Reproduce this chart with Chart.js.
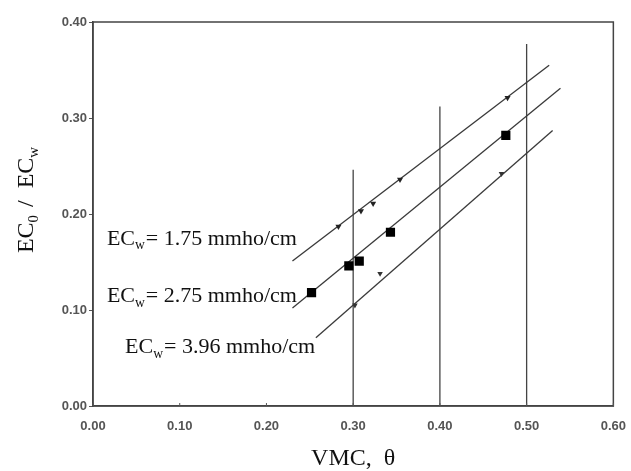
<!DOCTYPE html>
<html>
<head>
<meta charset="utf-8">
<script src="https://cdn.jsdelivr.net/npm/chart.js@4"></script>
<style>
  html, body { margin: 0; padding: 0; background: #fff; }
  #wrap { width: 631px; height: 471px; position: relative; }
</style>
</head>
<body>
<div id="wrap"><canvas id="chart"></canvas></div>
<script>
// measured points, VMC (theta) vs EC0/ECw
const ec175Theta = [0.283, 0.309, 0.323, 0.354, 0.478];
const ec175Ratio = [0.187, 0.203, 0.211, 0.236, 0.321];
const ec275Theta = [0.252, 0.295, 0.307, 0.343, 0.476];
const ec275Ratio = [0.118, 0.146, 0.151, 0.181, 0.282];
const ec396Theta = [0.302, 0.331, 0.471];
const ec396Ratio = [0.105, 0.138, 0.242];

// fitted lines (end points)
const fit175Theta = [0.230, 0.526];
const fit175Ratio = [0.151, 0.355];
const fit275Theta = [0.230, 0.539];
const fit275Ratio = [0.102, 0.331];
const fit396Theta = [0.257, 0.530];
const fit396Ratio = [0.071, 0.287];

// vertical reference lines at theta = 0.3, 0.4, 0.5
const refTheta = [0.30, 0.40, 0.50];
const refTop = [0.246, 0.312, 0.377];

const xTicks = [0, 0.1, 0.2, 0.3, 0.4, 0.5, 0.6];
const yTicks = [0, 0.1, 0.2, 0.3, 0.4];

const seriesLabels = ["1.75", "2.75", "3.96"];

const pairs = (xs, ys) => xs.map((x, i) => ({x, y: ys[i]}));

const lineColor = "#3a3a3a";
const serif = "'Liberation Serif', 'Times New Roman', serif";
const tickFont = { family: "'Liberation Sans', Arial", size: 13, weight: "bold" };

function fitLine(xs, ys) {
    return {
        type: "line",
        data: pairs(xs, ys),
        borderColor: lineColor,
        borderWidth: 1.3,
        pointRadius: 0,
        fill: false,
        order: 2,
    };
}

const refDatasets = refTheta.map((t, i) => ({
    type: "line",
    data: [{x: t, y: 0}, {x: t, y: refTop[i]}],
    borderColor: "#444",
    borderWidth: 1.3,
    pointRadius: 0,
    fill: false,
    order: 3,
}));

// draws text with subscript parts
function drawRich(ctx, parts, x, y, size) {
    let cx = x;
    parts.forEach(p => {
        const fs = p.sub ? size * 0.62 : size;
        ctx.font = fs + "px " + serif;
        ctx.fillText(p.t, cx, p.sub ? y + size * 0.2 : y);
        cx += ctx.measureText(p.t).width + (p.gap || 0);
    });
    return cx - x;
}

function richWidth(ctx, parts, size) {
    let w = 0;
    parts.forEach(p => {
        ctx.font = (p.sub ? size * 0.62 : size) + "px " + serif;
        w += ctx.measureText(p.t).width + (p.gap || 0);
    });
    return w;
}

const textPlugin = {
    id: "texts",
    afterDraw(chart) {
        const {ctx, chartArea: a, scales: {x, y}} = chart;
        ctx.save();
        // frame
        ctx.strokeStyle = "#444";
        ctx.lineWidth = 1.5;
        ctx.strokeRect(a.left, a.top, a.right - a.left, a.bottom - a.top);

        // small inward ticks on the x axis
        ctx.strokeStyle = "#555";
        ctx.lineWidth = 1;
        xTicks.forEach(v => {
            const px = x.getPixelForValue(v);
            ctx.beginPath();
            ctx.moveTo(px, a.bottom);
            ctx.lineTo(px, a.bottom - 3);
            ctx.stroke();
        });

        ctx.fillStyle = "#111";
        ctx.textBaseline = "alphabetic";
        // series labels, anchored in data space
        const anchors = [[0.016, 0.168], [0.016, 0.108], [0.037, 0.055]];
        seriesLabels.forEach((v, i) => {
            const parts = [{t: "EC"}, {t: "w", sub: true, gap: 1}, {t: "= " + v + " mmho/cm"}];
            drawRich(ctx, parts, x.getPixelForValue(anchors[i][0]), y.getPixelForValue(anchors[i][1]), 22);
        });

        // x title
        ctx.font = "24px " + serif;
        ctx.textAlign = "center";
        ctx.fillText("VMC,  \u03b8", (a.left + a.right) / 2, 465);

        // y title, rotated
        ctx.textAlign = "left";
        const yParts = [{t: "EC"}, {t: "0", sub: true, gap: 2}, {t: " /  EC"}, {t: "w", sub: true}];
        const w = richWidth(ctx, yParts, 24);
        ctx.translate(33, 200);
        ctx.rotate(-Math.PI / 2);
        drawRich(ctx, yParts, -w / 2, 0, 24);
        ctx.restore();
    }
};

new Chart(document.getElementById("chart"), {
    type: "scatter",
    data: {
        datasets: [
            fitLine(fit175Theta, fit175Ratio),
            fitLine(fit275Theta, fit275Ratio),
            fitLine(fit396Theta, fit396Ratio),
            ...refDatasets,
            {
                data: pairs(ec175Theta, ec175Ratio),
                pointStyle: "triangle",
                rotation: -60,
                pointRadius: 3.5,
                backgroundColor: "#222",
                borderColor: "#222",
                borderWidth: 0,
                order: 1,
            },
            {
                data: pairs(ec275Theta, ec275Ratio),
                pointStyle: "rect",
                pointRadius: 6.5,
                backgroundColor: "#000",
                borderColor: "#000",
                borderWidth: 0,
                order: 1,
            },
            {
                data: pairs(ec396Theta, ec396Ratio),
                pointStyle: "triangle",
                rotation: -60,
                pointRadius: 3.2,
                backgroundColor: "#333",
                borderColor: "#333",
                borderWidth: 0,
                order: 1,
            },
        ],
    },
    options: {
        responsive: true,
        maintainAspectRatio: false,
        animation: false,
        layout: { padding: { left: 0, top: 22, right: 9, bottom: 0 } },
        plugins: {
            legend: { display: false },
            tooltip: { enabled: false },
        },
        scales: {
            x: {
                type: "linear",
                min: 0,
                max: 0.6,
                afterBuildTicks: s => { s.ticks = xTicks.map(v => ({value: v})); },
                afterFit: s => { s.height = 65; },
                grid: { display: false },
                border: { display: true, color: "#444", width: 1.5 },
                ticks: {
                    color: "#555",
                    font: tickFont,
                    padding: 5,
                    callback: v => v.toFixed(2),
                },
            },
            y: {
                type: "linear",
                min: 0,
                max: 0.4,
                afterBuildTicks: s => { s.ticks = yTicks.map(v => ({value: v})); },
                afterFit: s => { s.width = 93; },
                grid: { display: true, drawOnChartArea: false, tickLength: 4, color: "#555" },
                border: { display: true, color: "#444", width: 1.5 },
                ticks: {
                    color: "#555",
                    font: tickFont,
                    padding: 2,
                    callback: v => v.toFixed(2),
                },
            },
        },
    },
    plugins: [textPlugin],
});
</script>
</body>
</html>
